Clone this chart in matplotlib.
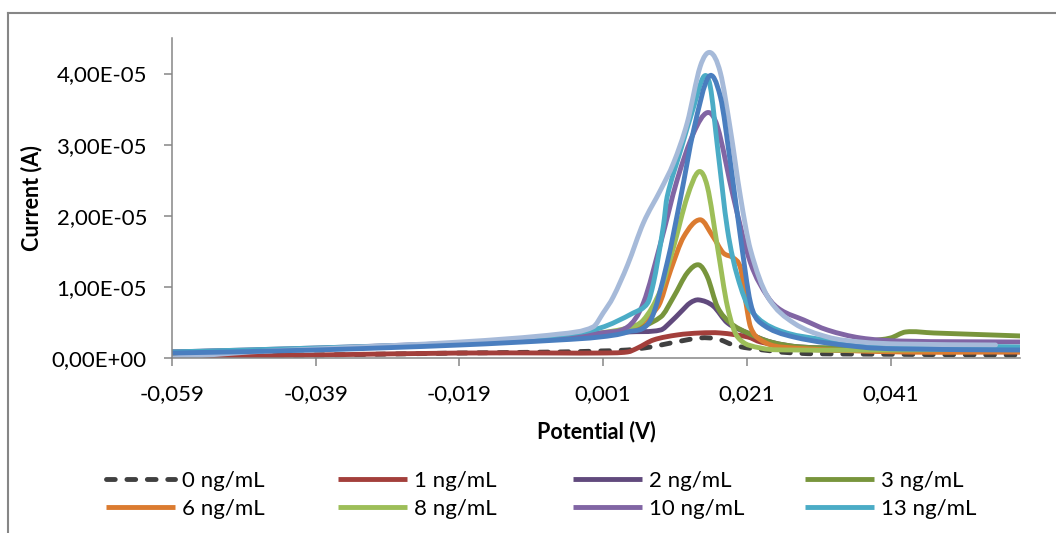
import numpy as np
import matplotlib
matplotlib.use("Agg")
import matplotlib.pyplot as plt
from matplotlib.path import Path
from matplotlib.patches import PathPatch
from matplotlib.lines import Line2D
from matplotlib.ticker import FixedLocator, FuncFormatter

plt.rcParams["font.family"] = ["Lato", "DejaVu Sans"]

# potential in V, current in microampere
v_0 = [-0.059, -0.0389, -0.0189, -0.0050, 0.0006, 0.0044, 0.0076, 0.0104, 0.0145, 0.0169, 0.0191, 0.0211, 0.0275, 0.0354, 0.0591]
i_0 = [0.28, 0.42, 0.70, 0.85, 0.99, 1.13, 1.55, 2.11, 2.82, 2.68, 1.83, 1.41, 0.70, 0.56, 0.42]

v_1 = [-0.059, -0.0389, -0.0189, -0.0050, 0.0006, 0.0044, 0.0058, 0.0080, 0.0113, 0.0145, 0.0173, 0.0211, 0.0229, 0.0285, 0.0424, 0.0591]
i_1 = [0.14, 0.42, 0.70, 0.70, 0.70, 0.85, 1.41, 2.54, 3.24, 3.52, 3.52, 2.96, 2.25, 1.27, 0.99, 0.85]

v_2 = [-0.059, -0.0389, -0.0189, -0.0050, 0.0006, 0.0044, 0.0090, 0.0104, 0.0118, 0.0131, 0.0143, 0.0163, 0.0183,
       0.0211, 0.0243, 0.0285, 0.0424, 0.0591]
i_2 = [0.85, 1.27, 1.97, 2.82, 3.38, 3.66, 3.94, 5.07, 6.48, 7.75, 8.17, 7.32, 4.93,
       3.52, 2.25, 1.55, 1.13, 0.99]

v_3 = [-0.059, -0.0389, -0.0189, -0.0050, 0.0006, 0.0044, 0.0090, 0.0108, 0.0127, 0.0143, 0.0155, 0.0169, 0.0187,
       0.0211, 0.0243, 0.0285, 0.0340, 0.0382, 0.0410, 0.0431, 0.0470, 0.0591]
i_3 = [0.70, 1.27, 1.97, 2.82, 3.38, 3.80, 5.77, 8.59, 11.97, 13.10, 11.41, 7.18, 4.93,
       3.52, 2.25, 1.55, 1.55, 2.39, 2.82, 3.66, 3.52, 3.10]

v_6 = [-0.059, -0.0389, -0.0189, -0.0050, 0.0006, 0.0044, 0.0086, 0.0104, 0.0122, 0.0145, 0.0163, 0.0177, 0.0191,
       0.0201, 0.0208, 0.0215, 0.0229, 0.0257, 0.0424, 0.0591]
i_6 = [0.70, 1.27, 1.97, 2.82, 3.38, 3.94, 7.18, 12.39, 17.04, 19.44, 17.04, 14.79, 14.08,
       12.68, 8.17, 4.37, 2.54, 1.55, 0.85, 0.85]

v_8 = [-0.059, -0.0389, -0.0189, -0.0050, 0.0006, 0.0044, 0.0066, 0.0090, 0.0108, 0.0127, 0.0143, 0.0155, 0.0169,
       0.0183, 0.0197, 0.0229, 0.0275, 0.0424, 0.0567]
i_8 = [0.70, 1.27, 1.97, 2.82, 3.52, 4.23, 5.35, 9.58, 15.63, 22.68, 26.20, 24.08, 15.63,
       7.18, 2.96, 1.41, 1.13, 1.13, 1.27]

v_10 = [-0.059, -0.0389, -0.0189, -0.0050, 0.0006, 0.0044, 0.0066, 0.0090, 0.0113, 0.0136, 0.0155, 0.0169, 0.0191,
        0.0215, 0.0239, 0.0257, 0.0289, 0.0322, 0.0368, 0.0424, 0.0591]
i_10 = [0.85, 1.41, 2.11, 2.96, 3.52, 4.37, 7.75, 16.20, 25.07, 31.69, 34.51, 32.54, 22.68,
        13.38, 8.59, 6.76, 5.35, 3.94, 2.82, 2.39, 2.25]

v_13 = [-0.059, -0.0389, -0.0189, -0.0050, 0.0006, 0.0052, 0.0072, 0.0080, 0.0086, 0.0094, 0.0099, 0.0118, 0.0136,
        0.0150, 0.0159, 0.0169, 0.0183, 0.0197, 0.0215, 0.0253, 0.0322, 0.0424, 0.0591]
i_13 = [0.85, 1.41, 2.11, 3.24, 4.23, 6.34, 7.75, 10.56, 13.80, 18.73, 22.68, 29.30, 35.35,
        39.58, 38.17, 29.72, 18.03, 11.41, 6.76, 3.94, 2.54, 1.83, 1.55]

# two more curves whose legend rows are cut off in the picture
v_a = [-0.059, -0.0481, -0.0389, -0.0189, -0.0050, -0.0004, 0.0010, 0.0024, 0.0044, 0.0066, 0.0090, 0.0108,
       0.0127, 0.0145, 0.0159, 0.0173, 0.0187, 0.0201, 0.0215, 0.0239, 0.0275, 0.0322, 0.0368, 0.0424, 0.0556]
i_a = [0.0, 0.85, 1.27, 2.25, 3.38, 4.37, 6.34, 8.59, 13.10, 19.01, 23.66, 27.46,
       33.10, 40.99, 42.96, 40.14, 32.11, 22.68, 15.21, 8.59, 4.93, 2.96, 2.25, 1.97, 1.83]

v_b = [-0.059, -0.0389, -0.0189, -0.0050, 0.0006, 0.0044, 0.0076, 0.0099, 0.0118, 0.0136, 0.0157, 0.0173, 0.0187,
       0.0201, 0.0215, 0.0229, 0.0275, 0.0368, 0.0424, 0.0591]
i_b = [0.70, 1.13, 1.83, 2.54, 2.96, 3.66, 5.35, 13.38, 22.68, 32.11, 39.58, 36.76, 27.46,
       17.04, 7.75, 4.93, 2.96, 1.55, 1.27, 1.13]

labels = ["0 ng/mL", "1 ng/mL", "2 ng/mL", "3 ng/mL", "6 ng/mL", "8 ng/mL", "10 ng/mL", "13 ng/mL", None, None]
colors = ["#404040", "#A33F3B", "#614A7D", "#78953C", "#DB7B30", "#9DBE58", "#8165A4", "#4BACC6", "#A6BAD9", "#4A7EBF"]
potentials = [v_0, v_1, v_2, v_3, v_6, v_8, v_10, v_13, v_a, v_b]
currents = [i_0, i_1, i_2, i_3, i_6, i_8, i_10, i_13, i_a, i_b]

x_ticks = [-0.059, -0.039, -0.019, 0.001, 0.021, 0.041]
y_ticks = [0, 1e-5, 2e-5, 3e-5, 4e-5]

GRAY = "#868686"
LW = 3.5
DASH = (1.8, 2.4)


def smooth_path(xs, ys):
    # Hermite curve through the read points, like Excel's smoothed line
    x = np.asarray(xs, float)
    y = np.asarray(ys, float)
    n = len(x)
    m = np.zeros(n)
    m[0] = (y[1] - y[0]) / (x[1] - x[0])
    m[-1] = (y[-1] - y[-2]) / (x[-1] - x[-2])
    for k in range(1, n - 1):
        m[k] = (y[k + 1] - y[k - 1]) / (x[k + 1] - x[k - 1])
    verts = [(x[0], y[0])]
    codes = [Path.MOVETO]
    for k in range(n - 1):
        h = x[k + 1] - x[k]
        verts += [(x[k] + h / 3, y[k] + m[k] * h / 3),
                  (x[k + 1] - h / 3, y[k + 1] - m[k + 1] * h / 3),
                  (x[k + 1], y[k + 1])]
        codes += [Path.CURVE4] * 3
    return Path(verts, codes)


fig = plt.figure(figsize=(10.56, 5.33), dpi=100)
ax = fig.add_axes([172 / 1056, 1 - 358 / 533, 848 / 1056, 320 / 533])

handles = []
for k, (v, c) in enumerate(zip(potentials, currents)):
    ls = (0, DASH) if k == 0 else "-"
    patch = PathPatch(smooth_path(v, np.array(c) * 1e-6), fill=False, edgecolor=colors[k],
                      lw=LW, linestyle=ls, capstyle="round", joinstyle="round", zorder=2 + k * 0.01)
    ax.add_patch(patch)
    if labels[k]:
        h = Line2D([], [], color=colors[k], lw=LW, linestyle=ls,
                   dash_capstyle="round", solid_capstyle="butt")
        handles.append((h, labels[k]))

ax.set_xlim(-0.059, 0.059)
ax.set_ylim(0, 4.5e-5)
ax.xaxis.set_major_locator(FixedLocator(x_ticks))
ax.yaxis.set_major_locator(FixedLocator(y_ticks))
ax.xaxis.set_major_formatter(FuncFormatter(lambda v, _: f"{v:.3f}".replace(".", ",")))
ax.yaxis.set_major_formatter(FuncFormatter(lambda v, _: f"{v:.2E}".replace(".", ",")))

for s in ["top", "right"]:
    ax.spines[s].set_visible(False)
for s in ["left", "bottom"]:
    ax.spines[s].set_color(GRAY)
    ax.spines[s].set_linewidth(1.1)
ax.tick_params(axis="both", direction="out", length=6, width=1.1, color=GRAY, labelsize=16, labelcolor="black")
ax.tick_params(axis="x", pad=13)
ax.tick_params(axis="y", pad=12)

ax.set_xlabel("Potential (V)", fontsize=15.5, fontweight="bold", labelpad=12)
ax.set_ylabel("Current (A)", fontsize=15.5, fontweight="bold", labelpad=7)

# legend: 4 evenly spaced columns, 2 rows
col_x = [106, 338, 573, 805]
for c in range(4):
    pair = [handles[c], handles[c + 4]]
    fig.legend([p[0] for p in pair], [p[1] for p in pair], loc="center left",
               bbox_to_anchor=(col_x[c] / 1056, 1 - 495 / 533), frameon=False,
               fontsize=16, handlelength=3.1, handletextpad=0.3, labelspacing=0.34,
               borderpad=0, borderaxespad=0)

# outer chart frame (partly cropped)
fig.add_artist(Line2D([8 / 1056, 8 / 1056], [0, 1 - 13 / 533], color=GRAY, lw=1.5))
fig.add_artist(Line2D([8 / 1056, 1], [1 - 13 / 533, 1 - 13 / 533], color=GRAY, lw=1.5))

fig.savefig("out.png", dpi=100)
